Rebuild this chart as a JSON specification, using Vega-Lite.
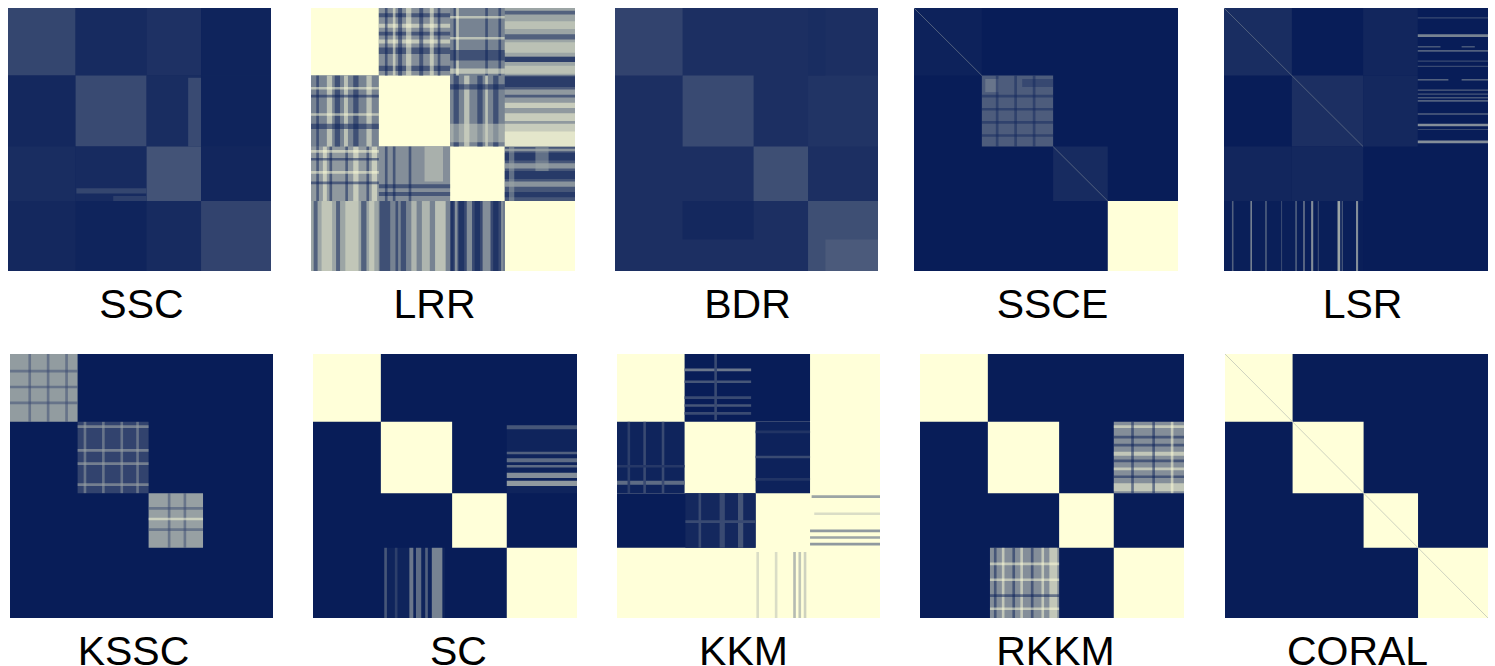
{"$schema":"https://vega.github.io/schema/vega-lite/v6.json","padding":{"left":8,"top":7,"right":0,"bottom":0},"background":"white","spacing":28,"config":{"view":{"stroke":null},"axisX":{"domain":false,"ticks":false,"labels":false,"grid":false,"titleFont":"Liberation Sans","titleFontSize":41,"titleFontWeight":"normal","titleColor":"#000000","titlePadding":14,"titleAlign":"center"}},
"datasets":{"m":[
{"p":"SSC","k":"b","x":0,"x2":100,"y":0,"y2":100,"v":0.05},
{"p":"SSC","k":"b","x":0,"x2":25.7,"y":0,"y2":25.7,"v":0.18},{"p":"SSC","k":"b","x":25.7,"x2":52.7,"y":0,"y2":25.7,"v":0.06},{"p":"SSC","k":"b","x":52.7,"x2":73.4,"y":0,"y2":25.7,"v":0.09},{"p":"SSC","k":"b","x":73.4,"x2":100,"y":0,"y2":25.7,"v":0.03},
{"p":"SSC","k":"b","x":0,"x2":25.7,"y":25.7,"y2":52.7,"v":0.05},{"p":"SSC","k":"b","x":25.7,"x2":52.7,"y":25.7,"y2":52.7,"v":0.2},{"p":"SSC","k":"b","x":52.7,"x2":73.4,"y":25.7,"y2":52.7,"v":0.07},{"p":"SSC","k":"b","x":73.4,"x2":100,"y":25.7,"y2":52.7,"v":0.03},
{"p":"SSC","k":"b","x":68.5,"x2":73.4,"y":26.5,"y2":52.7,"v":0.2},
{"p":"SSC","k":"b","x":0,"x2":25.7,"y":52.7,"y2":73.4,"v":0.07},{"p":"SSC","k":"b","x":25.7,"x2":52.7,"y":52.7,"y2":73.4,"v":0.06},{"p":"SSC","k":"b","x":52.7,"x2":73.4,"y":52.7,"y2":73.4,"v":0.24},{"p":"SSC","k":"b","x":73.4,"x2":100,"y":52.7,"y2":73.4,"v":0.04},
{"p":"SSC","k":"b","x":26,"x2":52.7,"y":68.5,"y2":70.5,"v":0.18},{"p":"SSC","k":"b","x":40,"x2":52.7,"y":71.5,"y2":73.4,"v":0.15},
{"p":"SSC","k":"b","x":0,"x2":25.7,"y":73.4,"y2":100,"v":0.05},{"p":"SSC","k":"b","x":25.7,"x2":52.7,"y":73.4,"y2":100,"v":0.03},{"p":"SSC","k":"b","x":52.7,"x2":73.4,"y":73.4,"y2":100,"v":0.06},{"p":"SSC","k":"b","x":73.4,"x2":100,"y":73.4,"y2":100,"v":0.17},
{"p":"LRR","k":"b","x":0,"x2":100,"y":0,"y2":100,"v":0.45},
{"p":"LRR","k":"b","x":0,"x2":25.7,"y":0,"y2":25.7,"v":1},{"p":"LRR","k":"b","x":25.7,"x2":52.7,"y":0,"y2":25.7,"v":0.5},{"p":"LRR","k":"b","x":52.7,"x2":73.4,"y":0,"y2":25.7,"v":0.45},{"p":"LRR","k":"b","x":73.4,"x2":100,"y":0,"y2":25.7,"v":0.6},
{"p":"LRR","k":"b","x":0,"x2":25.7,"y":25.7,"y2":52.7,"v":0.45},{"p":"LRR","k":"b","x":25.7,"x2":52.7,"y":25.7,"y2":52.7,"v":1},{"p":"LRR","k":"b","x":52.7,"x2":73.4,"y":25.7,"y2":52.7,"v":0.45},{"p":"LRR","k":"b","x":73.4,"x2":100,"y":25.7,"y2":52.7,"v":0.55},
{"p":"LRR","k":"b","x":0,"x2":25.7,"y":52.7,"y2":73.4,"v":0.55},{"p":"LRR","k":"b","x":25.7,"x2":52.7,"y":52.7,"y2":73.4,"v":0.5},{"p":"LRR","k":"b","x":52.7,"x2":73.4,"y":52.7,"y2":73.4,"v":1},{"p":"LRR","k":"b","x":73.4,"x2":100,"y":52.7,"y2":73.4,"v":0.25},
{"p":"LRR","k":"b","x":0,"x2":25.7,"y":73.4,"y2":100,"v":0.6},{"p":"LRR","k":"b","x":25.7,"x2":52.7,"y":73.4,"y2":100,"v":0.45},{"p":"LRR","k":"b","x":52.7,"x2":73.4,"y":73.4,"y2":100,"v":0.2},{"p":"LRR","k":"b","x":73.4,"x2":100,"y":73.4,"y2":100,"v":1},
{"p":"LRR","k":"s","x":25.7,"x2":52.7,"y":2,"y2":3.5,"v":0},{"p":"LRR","k":"s","x":25.7,"x2":52.7,"y":9,"y2":10.5,"v":0},{"p":"LRR","k":"s","x":25.7,"x2":52.7,"y":15,"y2":17.5,"v":0},{"p":"LRR","k":"s","x":25.7,"x2":52.7,"y":22,"y2":24,"v":0},{"p":"LRR","k":"s","x":25.7,"x2":52.7,"y":6,"y2":7.5,"v":1},{"p":"LRR","k":"s","x":25.7,"x2":52.7,"y":12,"y2":13.5,"v":1},
{"p":"LRR","k":"s","x":28,"x2":29,"y":0,"y2":25.7,"v":0},{"p":"LRR","k":"s","x":33,"x2":34.5,"y":0,"y2":25.7,"v":0},{"p":"LRR","k":"s","x":41,"x2":42.5,"y":0,"y2":25.7,"v":0},{"p":"LRR","k":"s","x":48,"x2":49,"y":0,"y2":25.7,"v":0},{"p":"LRR","k":"s","x":31,"x2":32,"y":0,"y2":25.7,"v":1},{"p":"LRR","k":"s","x":36,"x2":38,"y":0,"y2":25.7,"v":1},{"p":"LRR","k":"s","x":45,"x2":46.5,"y":0,"y2":25.7,"v":1},
{"p":"LRR","k":"s","x":55,"x2":56,"y":0,"y2":25.7,"v":1},{"p":"LRR","k":"s","x":52.7,"x2":73.4,"y":16,"y2":20,"v":0},{"p":"LRR","k":"s","x":54,"x2":54.8,"y":0,"y2":25.7,"v":0},{"p":"LRR","k":"s","x":66,"x2":67,"y":0,"y2":25.7,"v":0},{"p":"LRR","k":"s","x":71,"x2":72,"y":0,"y2":25.7,"v":0},{"p":"LRR","k":"s","x":52.7,"x2":73.4,"y":3,"y2":4,"v":1},{"p":"LRR","k":"s","x":52.7,"x2":73.4,"y":11,"y2":12,"v":1},{"p":"LRR","k":"s","x":52.7,"x2":73.4,"y":23,"y2":25,"v":1},
{"p":"LRR","k":"s","x":73.4,"x2":100,"y":1,"y2":2.5,"v":0},{"p":"LRR","k":"s","x":73.4,"x2":100,"y":10,"y2":12,"v":0},{"p":"LRR","k":"s","x":73.4,"x2":100,"y":18.5,"y2":20.5,"v":0},{"p":"LRR","k":"s","x":73.4,"x2":100,"y":18.5,"y2":20.5,"v":0},{"p":"LRR","k":"s","x":73.4,"x2":100,"y":5,"y2":8,"v":0.85},{"p":"LRR","k":"s","x":73.4,"x2":100,"y":13,"y2":17,"v":0.85},{"p":"LRR","k":"s","x":73.4,"x2":100,"y":22,"y2":25,"v":0.85},
{"p":"LRR","k":"s","x":2,"x2":3,"y":25.7,"y2":52.7,"v":0},{"p":"LRR","k":"s","x":9,"x2":11,"y":25.7,"y2":52.7,"v":0},{"p":"LRR","k":"s","x":16,"x2":18,"y":25.7,"y2":52.7,"v":0},{"p":"LRR","k":"s","x":6,"x2":8,"y":25.7,"y2":52.7,"v":1},{"p":"LRR","k":"s","x":12.5,"x2":14,"y":25.7,"y2":52.7,"v":1},{"p":"LRR","k":"s","x":21,"x2":23,"y":25.7,"y2":52.7,"v":1},{"p":"LRR","k":"s","x":0,"x2":25.7,"y":33,"y2":34,"v":0},{"p":"LRR","k":"s","x":0,"x2":25.7,"y":44,"y2":46,"v":0},{"p":"LRR","k":"s","x":0,"x2":25.7,"y":30,"y2":31,"v":1},{"p":"LRR","k":"s","x":0,"x2":25.7,"y":40,"y2":41,"v":1},
{"p":"LRR","k":"s","x":54,"x2":56,"y":25.7,"y2":52.7,"v":0},{"p":"LRR","k":"s","x":63,"x2":65,"y":25.7,"y2":52.7,"v":0},{"p":"LRR","k":"s","x":69,"x2":71,"y":25.7,"y2":52.7,"v":0},{"p":"LRR","k":"s","x":58,"x2":60,"y":25.7,"y2":52.7,"v":1},{"p":"LRR","k":"s","x":66,"x2":67,"y":25.7,"y2":52.7,"v":1},{"p":"LRR","k":"s","x":52.7,"x2":73.4,"y":44,"y2":51,"v":0.8},{"p":"LRR","k":"s","x":52.7,"x2":73.4,"y":29,"y2":31,"v":0},
{"p":"LRR","k":"s","x":73.4,"x2":100,"y":25.7,"y2":31,"v":0},{"p":"LRR","k":"s","x":73.4,"x2":100,"y":33,"y2":34,"v":0},{"p":"LRR","k":"s","x":73.4,"x2":100,"y":26,"y2":30,"v":0},{"p":"LRR","k":"s","x":73.4,"x2":100,"y":36,"y2":38,"v":1},{"p":"LRR","k":"s","x":73.4,"x2":100,"y":40,"y2":43,"v":1},{"p":"LRR","k":"s","x":73.4,"x2":100,"y":44,"y2":52.7,"v":1},{"p":"LRR","k":"s","x":73.4,"x2":100,"y":47,"y2":52.7,"v":1},
{"p":"LRR","k":"s","x":2,"x2":3,"y":52.7,"y2":73.4,"v":0},{"p":"LRR","k":"s","x":7,"x2":8,"y":52.7,"y2":73.4,"v":0},{"p":"LRR","k":"s","x":13,"x2":14,"y":52.7,"y2":73.4,"v":0},{"p":"LRR","k":"s","x":21,"x2":22,"y":52.7,"y2":73.4,"v":0},{"p":"LRR","k":"s","x":4.5,"x2":6,"y":52.7,"y2":73.4,"v":1},{"p":"LRR","k":"s","x":16,"x2":18,"y":52.7,"y2":73.4,"v":1},{"p":"LRR","k":"s","x":23,"x2":25,"y":52.7,"y2":73.4,"v":1},{"p":"LRR","k":"s","x":0,"x2":25.7,"y":57,"y2":58,"v":0},{"p":"LRR","k":"s","x":0,"x2":25.7,"y":66,"y2":67,"v":0},{"p":"LRR","k":"s","x":0,"x2":25.7,"y":54,"y2":55,"v":1},{"p":"LRR","k":"s","x":0,"x2":25.7,"y":62,"y2":63,"v":1},
{"p":"LRR","k":"s","x":25.7,"x2":52.7,"y":67,"y2":68.5,"v":0},{"p":"LRR","k":"s","x":25.7,"x2":52.7,"y":70,"y2":71.5,"v":0},{"p":"LRR","k":"s","x":28,"x2":29,"y":52.7,"y2":73.4,"v":0},{"p":"LRR","k":"s","x":31,"x2":32,"y":52.7,"y2":73.4,"v":0},{"p":"LRR","k":"s","x":37,"x2":38,"y":52.7,"y2":73.4,"v":0},{"p":"LRR","k":"s","x":43,"x2":50,"y":52.7,"y2":66,"v":0.8},
{"p":"LRR","k":"s","x":73.4,"x2":100,"y":55,"y2":58,"v":0},{"p":"LRR","k":"s","x":73.4,"x2":100,"y":62,"y2":65,"v":0},{"p":"LRR","k":"s","x":73.4,"x2":100,"y":70,"y2":72,"v":0},{"p":"LRR","k":"s","x":73.4,"x2":100,"y":53.5,"y2":54.5,"v":0.8},{"p":"LRR","k":"s","x":73.4,"x2":100,"y":59,"y2":61,"v":0.8},{"p":"LRR","k":"s","x":73.4,"x2":100,"y":66,"y2":68,"v":0.8},{"p":"LRR","k":"s","x":85,"x2":90,"y":52.7,"y2":62,"v":0.6},{"p":"LRR","k":"s","x":75,"x2":77,"y":52.7,"y2":73.4,"v":0.6},
{"p":"LRR","k":"s","x":1,"x2":2.5,"y":73.4,"y2":100,"v":0},{"p":"LRR","k":"s","x":9.5,"x2":11,"y":73.4,"y2":100,"v":0},{"p":"LRR","k":"s","x":19,"x2":21,"y":73.4,"y2":100,"v":0},{"p":"LRR","k":"s","x":4,"x2":8,"y":73.4,"y2":100,"v":0.9},{"p":"LRR","k":"s","x":13,"x2":18,"y":73.4,"y2":100,"v":0.9},{"p":"LRR","k":"s","x":22,"x2":24,"y":73.4,"y2":100,"v":0.9},
{"p":"LRR","k":"s","x":26,"x2":30,"y":73.4,"y2":100,"v":0},{"p":"LRR","k":"s","x":32,"x2":33,"y":73.4,"y2":100,"v":0},{"p":"LRR","k":"s","x":34,"x2":36,"y":73.4,"y2":100,"v":0},{"p":"LRR","k":"s","x":38,"x2":40,"y":73.4,"y2":100,"v":0.9},{"p":"LRR","k":"s","x":42,"x2":45,"y":73.4,"y2":100,"v":0.9},{"p":"LRR","k":"s","x":47,"x2":51,"y":73.4,"y2":100,"v":1},
{"p":"LRR","k":"s","x":53,"x2":54,"y":73.4,"y2":100,"v":0},{"p":"LRR","k":"s","x":56,"x2":58,"y":73.4,"y2":100,"v":0},{"p":"LRR","k":"s","x":62,"x2":64,"y":73.4,"y2":100,"v":0},{"p":"LRR","k":"s","x":69,"x2":71,"y":73.4,"y2":100,"v":0},{"p":"LRR","k":"s","x":54.5,"x2":55.5,"y":73.4,"y2":100,"v":0.8},{"p":"LRR","k":"s","x":59,"x2":61,"y":73.4,"y2":100,"v":0.8},{"p":"LRR","k":"s","x":65,"x2":68,"y":73.4,"y2":100,"v":0.8},{"p":"LRR","k":"s","x":72,"x2":73,"y":73.4,"y2":100,"v":0.8},
{"p":"BDR","k":"b","x":0,"x2":100,"y":0,"y2":100,"v":0.08},{"p":"BDR","k":"b","x":0,"x2":25.7,"y":0,"y2":25.7,"v":0.17},{"p":"BDR","k":"b","x":25.7,"x2":52.7,"y":25.7,"y2":52.7,"v":0.2},{"p":"BDR","k":"b","x":52.7,"x2":73.4,"y":52.7,"y2":73.4,"v":0.22},{"p":"BDR","k":"b","x":73.4,"x2":100,"y":73.4,"y2":100,"v":0.22},{"p":"BDR","k":"b","x":80,"x2":100,"y":88,"y2":100,"v":0.27},{"p":"BDR","k":"b","x":25.7,"x2":52.7,"y":73.4,"y2":88,"v":0.05},{"p":"BDR","k":"b","x":73.4,"x2":100,"y":25.7,"y2":52.7,"v":0.1},{"p":"BDR","k":"b","x":73.4,"x2":80,"y":0,"y2":25.7,"v":0.07},
{"p":"SSCE","k":"b","x":0,"x2":100,"y":0,"y2":100,"v":0},{"p":"SSCE","k":"b","x":0,"x2":25.7,"y":0,"y2":25.7,"v":0.02},{"p":"SSCE","k":"b","x":25.7,"x2":52.7,"y":25.7,"y2":52.7,"v":0.28},{"p":"SSCE","k":"b","x":52.7,"x2":73.4,"y":52.7,"y2":73.4,"v":0.06},{"p":"SSCE","k":"b","x":73.4,"x2":100,"y":73.4,"y2":100,"v":1},
{"p":"SSCE","k":"s","x":25.7,"x2":52.7,"y":33,"y2":34,"v":0.05},{"p":"SSCE","k":"s","x":25.7,"x2":52.7,"y":38,"y2":39,"v":0.05},{"p":"SSCE","k":"s","x":25.7,"x2":52.7,"y":43,"y2":44,"v":0.05},{"p":"SSCE","k":"s","x":25.7,"x2":52.7,"y":48,"y2":49,"v":0.05},{"p":"SSCE","k":"s","x":41,"x2":52.7,"y":27,"y2":30,"v":0.1},{"p":"SSCE","k":"s","x":27,"x2":32,"y":27,"y2":32,"v":0.5},{"p":"SSCE","k":"s","x":31,"x2":32,"y":25.7,"y2":52.7,"v":0.05},{"p":"SSCE","k":"s","x":38,"x2":39,"y":25.7,"y2":52.7,"v":0.05},{"p":"SSCE","k":"s","x":45,"x2":46,"y":25.7,"y2":52.7,"v":0.05},
{"p":"SSCE","k":"d","x":0,"x2":25.7,"y":0,"y2":25.7,"v":0.3},{"p":"SSCE","k":"d","x":52.7,"x2":73.4,"y":52.7,"y2":73.4,"v":0.3},
{"p":"LSR","k":"b","x":0,"x2":100,"y":0,"y2":100,"v":0},{"p":"LSR","k":"b","x":0,"x2":25.7,"y":0,"y2":25.7,"v":0.07},{"p":"LSR","k":"b","x":52.7,"x2":73.4,"y":0,"y2":25.7,"v":0.04},{"p":"LSR","k":"b","x":25.7,"x2":52.7,"y":25.7,"y2":52.7,"v":0.08},{"p":"LSR","k":"b","x":52.7,"x2":73.4,"y":25.7,"y2":52.7,"v":0.05},{"p":"LSR","k":"b","x":0,"x2":25.7,"y":52.7,"y2":73.4,"v":0.04},{"p":"LSR","k":"b","x":25.7,"x2":52.7,"y":52.7,"y2":73.4,"v":0.05},{"p":"LSR","k":"b","x":0,"x2":52.7,"y":73.4,"y2":100,"v":0.01},
{"p":"LSR","k":"b","x":73.4,"x2":100,"y":3.5,"y2":4,"v":0.2},{"p":"LSR","k":"b","x":73.4,"x2":100,"y":10,"y2":11,"v":0.45},{"p":"LSR","k":"b","x":73.4,"x2":82,"y":14.5,"y2":15,"v":0.3},{"p":"LSR","k":"b","x":90,"x2":95,"y":14.5,"y2":15,"v":0.3},{"p":"LSR","k":"b","x":73.4,"x2":100,"y":16,"y2":16.6,"v":0.3},{"p":"LSR","k":"b","x":73.4,"x2":100,"y":20,"y2":20.4,"v":0.2},{"p":"LSR","k":"b","x":73.4,"x2":100,"y":22,"y2":22.4,"v":0.2},{"p":"LSR","k":"b","x":73.4,"x2":85,"y":27,"y2":27.6,"v":0.3},{"p":"LSR","k":"b","x":90,"x2":100,"y":27,"y2":27.6,"v":0.3},{"p":"LSR","k":"b","x":73.4,"x2":100,"y":31,"y2":31.5,"v":0.3},{"p":"LSR","k":"b","x":73.4,"x2":100,"y":32.5,"y2":33,"v":0.25},{"p":"LSR","k":"b","x":73.4,"x2":100,"y":33.8,"y2":34.4,"v":0.25},{"p":"LSR","k":"b","x":73.4,"x2":100,"y":35,"y2":35.6,"v":0.3},{"p":"LSR","k":"b","x":73.4,"x2":100,"y":40,"y2":40.6,"v":0.3},{"p":"LSR","k":"b","x":73.4,"x2":100,"y":44,"y2":45,"v":0.5},{"p":"LSR","k":"b","x":73.4,"x2":100,"y":46,"y2":46.4,"v":0.2},{"p":"LSR","k":"b","x":73.4,"x2":100,"y":50.4,"y2":51.4,"v":0.5},
{"p":"LSR","k":"b","x":3,"x2":3.6,"y":73.4,"y2":100,"v":0.3},{"p":"LSR","k":"b","x":10,"x2":10.6,"y":73.4,"y2":100,"v":0.45},{"p":"LSR","k":"b","x":15.6,"x2":16.2,"y":73.4,"y2":100,"v":0.3},{"p":"LSR","k":"b","x":21.6,"x2":22,"y":73.4,"y2":100,"v":0.2},{"p":"LSR","k":"b","x":27,"x2":27.6,"y":73.4,"y2":100,"v":0.3},{"p":"LSR","k":"b","x":30,"x2":30.6,"y":73.4,"y2":100,"v":0.4},{"p":"LSR","k":"b","x":33,"x2":33.8,"y":73.4,"y2":100,"v":0.5},{"p":"LSR","k":"b","x":35.5,"x2":36,"y":73.4,"y2":100,"v":0.2},{"p":"LSR","k":"b","x":43,"x2":44,"y":73.4,"y2":100,"v":0.6},{"p":"LSR","k":"b","x":44.6,"x2":45,"y":73.4,"y2":100,"v":0.3},{"p":"LSR","k":"b","x":50,"x2":50.8,"y":73.4,"y2":100,"v":0.5},
{"p":"LSR","k":"d","x":0,"x2":52.7,"y":0,"y2":52.7,"v":0.3},
{"p":"KSSC","k":"b","x":0,"x2":100,"y":0,"y2":100,"v":0},{"p":"KSSC","k":"b","x":0,"x2":25.7,"y":0,"y2":25.7,"v":0.56},{"p":"KSSC","k":"b","x":25.7,"x2":52.7,"y":25.7,"y2":52.7,"v":0.17},{"p":"KSSC","k":"b","x":52.7,"x2":73.4,"y":52.7,"y2":73.4,"v":0.58},
{"p":"KSSC","k":"s","x":0,"x2":25.7,"y":6,"y2":7,"v":0.2},{"p":"KSSC","k":"s","x":0,"x2":25.7,"y":12,"y2":13,"v":0.2},{"p":"KSSC","k":"s","x":0,"x2":25.7,"y":18,"y2":19,"v":0.2},{"p":"KSSC","k":"s","x":7,"x2":8,"y":0,"y2":25.7,"v":0.2},{"p":"KSSC","k":"s","x":14,"x2":15,"y":0,"y2":25.7,"v":0.2},{"p":"KSSC","k":"s","x":21,"x2":22,"y":0,"y2":25.7,"v":0.2},
{"p":"KSSC","k":"s","x":25.7,"x2":52.7,"y":27,"y2":28,"v":0.7},{"p":"KSSC","k":"s","x":25.7,"x2":52.7,"y":36,"y2":37,"v":0.7},{"p":"KSSC","k":"s","x":25.7,"x2":52.7,"y":41,"y2":42,"v":0.7},{"p":"KSSC","k":"s","x":25.7,"x2":52.7,"y":49,"y2":50,"v":0.7},{"p":"KSSC","k":"s","x":28,"x2":29,"y":25.7,"y2":52.7,"v":0.6},{"p":"KSSC","k":"s","x":35,"x2":36,"y":25.7,"y2":52.7,"v":0.6},{"p":"KSSC","k":"s","x":42,"x2":43,"y":25.7,"y2":52.7,"v":0.6},{"p":"KSSC","k":"s","x":48,"x2":49,"y":25.7,"y2":52.7,"v":0.6},
{"p":"KSSC","k":"s","x":52.7,"x2":73.4,"y":58,"y2":59,"v":0.2},{"p":"KSSC","k":"s","x":52.7,"x2":73.4,"y":66,"y2":67,"v":0.2},{"p":"KSSC","k":"s","x":60,"x2":61,"y":52.7,"y2":73.4,"v":0.2},{"p":"KSSC","k":"s","x":66,"x2":67,"y":52.7,"y2":73.4,"v":0.2},{"p":"KSSC","k":"s","x":52.7,"x2":73.4,"y":62,"y2":63,"v":1},
{"p":"SC","k":"b","x":0,"x2":100,"y":0,"y2":100,"v":0},{"p":"SC","k":"b","x":0,"x2":25.7,"y":0,"y2":25.7,"v":1},{"p":"SC","k":"b","x":25.7,"x2":52.7,"y":25.7,"y2":52.7,"v":1},{"p":"SC","k":"b","x":52.7,"x2":73.4,"y":52.7,"y2":73.4,"v":1},{"p":"SC","k":"b","x":73.4,"x2":100,"y":73.4,"y2":100,"v":1},
{"p":"SC","k":"b","x":73.4,"x2":100,"y":27,"y2":52.7,"v":0.03},{"p":"SC","k":"b","x":73.4,"x2":100,"y":27,"y2":28.5,"v":0.25},{"p":"SC","k":"b","x":73.4,"x2":100,"y":37,"y2":38,"v":0.3},{"p":"SC","k":"b","x":73.4,"x2":100,"y":39.5,"y2":41,"v":0.35},{"p":"SC","k":"b","x":73.4,"x2":100,"y":42,"y2":43,"v":0.35},{"p":"SC","k":"b","x":73.4,"x2":100,"y":45,"y2":47,"v":0.5},{"p":"SC","k":"b","x":73.4,"x2":100,"y":48,"y2":50,"v":0.55},
{"p":"SC","k":"b","x":27,"x2":50,"y":73.4,"y2":100,"v":0.03},{"p":"SC","k":"b","x":27,"x2":28,"y":73.4,"y2":100,"v":0.25},{"p":"SC","k":"b","x":31,"x2":32,"y":73.4,"y2":100,"v":0.15},{"p":"SC","k":"b","x":36.5,"x2":38,"y":73.4,"y2":100,"v":0.4},{"p":"SC","k":"b","x":39,"x2":41,"y":73.4,"y2":100,"v":0.35},{"p":"SC","k":"b","x":42.5,"x2":43.5,"y":73.4,"y2":100,"v":0.3},{"p":"SC","k":"b","x":45,"x2":49,"y":73.4,"y2":100,"v":0.45},
{"p":"KKM","k":"b","x":0,"x2":100,"y":0,"y2":100,"v":1},{"p":"KKM","k":"b","x":25.7,"x2":73.4,"y":0,"y2":25.7,"v":0},{"p":"KKM","k":"b","x":0,"x2":25.7,"y":25.7,"y2":52.7,"v":0.03},{"p":"KKM","k":"b","x":52.7,"x2":73.4,"y":25.7,"y2":52.7,"v":0.02},{"p":"KKM","k":"b","x":0,"x2":52.7,"y":52.7,"y2":73.4,"v":0},
{"p":"KKM","k":"b","x":25.7,"x2":51,"y":5.5,"y2":6.5,"v":0.4},{"p":"KKM","k":"b","x":25.7,"x2":51,"y":10,"y2":11,"v":0.25},{"p":"KKM","k":"b","x":25.7,"x2":51,"y":16,"y2":17,"v":0.2},{"p":"KKM","k":"b","x":25.7,"x2":51,"y":19,"y2":20,"v":0.25},{"p":"KKM","k":"b","x":25.7,"x2":51,"y":22,"y2":23,"v":0.2},{"p":"KKM","k":"b","x":37,"x2":38,"y":0,"y2":25,"v":0.2},
{"p":"KKM","k":"b","x":0,"x2":25.7,"y":48,"y2":49.5,"v":0.35},{"p":"KKM","k":"b","x":4,"x2":5,"y":25.7,"y2":52.7,"v":0.15},{"p":"KKM","k":"b","x":10,"x2":11,"y":25.7,"y2":52.7,"v":0.2},{"p":"KKM","k":"b","x":17,"x2":18,"y":25.7,"y2":52.7,"v":0.2},{"p":"KKM","k":"b","x":0,"x2":25.7,"y":42,"y2":43,"v":0.12},
{"p":"KKM","k":"b","x":52.7,"x2":73.4,"y":38.5,"y2":39.5,"v":0.2},{"p":"KKM","k":"b","x":52.7,"x2":73.4,"y":29,"y2":30,"v":0.1},{"p":"KKM","k":"b","x":52.7,"x2":73.4,"y":47,"y2":48,"v":0.1},
{"p":"KKM","k":"b","x":26,"x2":52.7,"y":52.7,"y2":73.4,"v":0.05},{"p":"KKM","k":"b","x":31,"x2":32,"y":52.7,"y2":73.4,"v":0.2},{"p":"KKM","k":"b","x":39,"x2":41,"y":52.7,"y2":73.4,"v":0.2},{"p":"KKM","k":"b","x":46,"x2":48,"y":52.7,"y2":73.4,"v":0.25},{"p":"KKM","k":"b","x":26,"x2":52.7,"y":63,"y2":64,"v":0.2},
{"p":"KKM","k":"b","x":74,"x2":100,"y":53.5,"y2":54.5,"v":0.6},{"p":"KKM","k":"b","x":75,"x2":100,"y":60,"y2":61,"v":0.85},{"p":"KKM","k":"b","x":73.4,"x2":100,"y":66.5,"y2":67.5,"v":0.55},{"p":"KKM","k":"b","x":73.4,"x2":100,"y":69,"y2":70,"v":0.6},{"p":"KKM","k":"b","x":73.4,"x2":100,"y":71.5,"y2":72.5,"v":0.55},
{"p":"KKM","k":"b","x":53,"x2":54,"y":75,"y2":100,"v":0.85},{"p":"KKM","k":"b","x":60,"x2":61,"y":75,"y2":100,"v":0.85},{"p":"KKM","k":"b","x":67,"x2":68,"y":75,"y2":100,"v":0.7},{"p":"KKM","k":"b","x":69,"x2":70,"y":75,"y2":100,"v":0.75},{"p":"KKM","k":"b","x":71,"x2":72,"y":75,"y2":100,"v":0.8},
{"p":"RKKM","k":"b","x":0,"x2":100,"y":0,"y2":100,"v":0},{"p":"RKKM","k":"b","x":0,"x2":25.7,"y":0,"y2":25.7,"v":1},{"p":"RKKM","k":"b","x":25.7,"x2":52.7,"y":25.7,"y2":52.7,"v":1},{"p":"RKKM","k":"b","x":52.7,"x2":73.4,"y":52.7,"y2":73.4,"v":1},{"p":"RKKM","k":"b","x":73.4,"x2":100,"y":73.4,"y2":100,"v":1},{"p":"RKKM","k":"b","x":73.4,"x2":100,"y":25.7,"y2":52.7,"v":0.5},{"p":"RKKM","k":"b","x":26.5,"x2":52.7,"y":73.4,"y2":100,"v":0.5},
{"p":"RKKM","k":"s","x":73.4,"x2":100,"y":27,"y2":28,"v":1},{"p":"RKKM","k":"s","x":73.4,"x2":100,"y":31,"y2":32,"v":0},{"p":"RKKM","k":"s","x":73.4,"x2":100,"y":34,"y2":35,"v":0},{"p":"RKKM","k":"s","x":73.4,"x2":100,"y":37,"y2":38.5,"v":1},{"p":"RKKM","k":"s","x":73.4,"x2":100,"y":40,"y2":41,"v":0},{"p":"RKKM","k":"s","x":73.4,"x2":100,"y":43,"y2":44,"v":1},{"p":"RKKM","k":"s","x":73.4,"x2":100,"y":46,"y2":47,"v":0},{"p":"RKKM","k":"s","x":73.4,"x2":100,"y":49,"y2":52,"v":1},{"p":"RKKM","k":"s","x":80,"x2":81,"y":25.7,"y2":52.7,"v":0},{"p":"RKKM","k":"s","x":88,"x2":89,"y":25.7,"y2":52.7,"v":0},{"p":"RKKM","k":"s","x":95,"x2":96,"y":25.7,"y2":52.7,"v":1},
{"p":"RKKM","k":"s","x":28,"x2":29,"y":73.4,"y2":100,"v":0},{"p":"RKKM","k":"s","x":31,"x2":32,"y":73.4,"y2":100,"v":1},{"p":"RKKM","k":"s","x":35,"x2":36,"y":73.4,"y2":100,"v":0},{"p":"RKKM","k":"s","x":38,"x2":39,"y":73.4,"y2":100,"v":1},{"p":"RKKM","k":"s","x":42,"x2":43,"y":73.4,"y2":100,"v":0},{"p":"RKKM","k":"s","x":46,"x2":47,"y":73.4,"y2":100,"v":1},{"p":"RKKM","k":"s","x":49,"x2":52,"y":73.4,"y2":100,"v":1},{"p":"RKKM","k":"s","x":26.5,"x2":52.7,"y":79,"y2":80,"v":1},{"p":"RKKM","k":"s","x":26.5,"x2":52.7,"y":85,"y2":86,"v":1},{"p":"RKKM","k":"s","x":26.5,"x2":52.7,"y":91,"y2":92,"v":0},{"p":"RKKM","k":"s","x":26.5,"x2":52.7,"y":96,"y2":97,"v":1},
{"p":"CORAL","k":"b","x":0,"x2":100,"y":0,"y2":100,"v":0},{"p":"CORAL","k":"b","x":0,"x2":25.7,"y":0,"y2":25.7,"v":1},{"p":"CORAL","k":"b","x":25.7,"x2":52.7,"y":25.7,"y2":52.7,"v":1},{"p":"CORAL","k":"b","x":52.7,"x2":73.4,"y":52.7,"y2":73.4,"v":1},{"p":"CORAL","k":"b","x":73.4,"x2":100,"y":73.4,"y2":100,"v":1},{"p":"CORAL","k":"d","x":0,"x2":100,"y":0,"y2":100,"v":0.8}
]},
"vconcat":[
{"spacing":0,"hconcat":[
{"hconcat":[
{"width":263,"height":263,"data":{"name":"m"},"transform":[{"filter":"datum.p==='SSC'"}],"encoding":{"x":{"field":"x","type":"quantitative","scale":{"domain":[0,100],"nice":false,"zero":false},"axis":{"title":"SSC","titleX":133}},"x2":{"field":"x2"},"y":{"field":"y","type":"quantitative","scale":{"domain":[0,100],"nice":false,"zero":false,"reverse":true},"axis":null},"y2":{"field":"y2"},"color":{"field":"v","type":"quantitative","scale":{"domain":[0,1],"range":["#081d58","#ffffd9"],"interpolate":"rgb"},"legend":null}},"layer":[{"transform":[{"filter":"datum.k!=='d'"}],"mark":{"type":"rect"},"encoding":{"opacity":{"field":"k","type":"nominal","scale":{"domain":["b","s"],"range":[1,0.5]},"legend":null}}},{"transform":[{"filter":"datum.k==='d'"}],"mark":{"type":"rule","strokeWidth":1},"encoding":{}}]},
{"width":264,"height":263,"data":{"name":"m"},"transform":[{"filter":"datum.p==='LRR'"}],"encoding":{"x":{"field":"x","type":"quantitative","scale":{"domain":[0,100],"nice":false,"zero":false},"axis":{"title":"LRR","titleX":123}},"x2":{"field":"x2"},"y":{"field":"y","type":"quantitative","scale":{"domain":[0,100],"nice":false,"zero":false,"reverse":true},"axis":null},"y2":{"field":"y2"},"color":{"field":"v","type":"quantitative","scale":{"domain":[0,1],"range":["#081d58","#ffffd9"],"interpolate":"rgb"},"legend":null}},"layer":[{"transform":[{"filter":"datum.k!=='d'"}],"mark":{"type":"rect"},"encoding":{"opacity":{"field":"k","type":"nominal","scale":{"domain":["b","s"],"range":[1,0.5]},"legend":null}}},{"transform":[{"filter":"datum.k==='d'"}],"mark":{"type":"rule","strokeWidth":1},"encoding":{}}]},
{"width":263,"height":263,"data":{"name":"m"},"transform":[{"filter":"datum.p==='BDR'"}],"encoding":{"x":{"field":"x","type":"quantitative","scale":{"domain":[0,100],"nice":false,"zero":false},"axis":{"title":"BDR","titleX":132}},"x2":{"field":"x2"},"y":{"field":"y","type":"quantitative","scale":{"domain":[0,100],"nice":false,"zero":false,"reverse":true},"axis":null},"y2":{"field":"y2"},"color":{"field":"v","type":"quantitative","scale":{"domain":[0,1],"range":["#081d58","#ffffd9"],"interpolate":"rgb"},"legend":null}},"layer":[{"transform":[{"filter":"datum.k!=='d'"}],"mark":{"type":"rect"},"encoding":{"opacity":{"field":"k","type":"nominal","scale":{"domain":["b","s"],"range":[1,0.5]},"legend":null}}},{"transform":[{"filter":"datum.k==='d'"}],"mark":{"type":"rule","strokeWidth":1},"encoding":{}}]}
],"spacing":40},
{"width":35,"height":1,"data":{"values":[]},"mark":"rect","encoding":{}},
{"hconcat":[
{"width":264,"height":263,"data":{"name":"m"},"transform":[{"filter":"datum.p==='SSCE'"}],"encoding":{"x":{"field":"x","type":"quantitative","scale":{"domain":[0,100],"nice":false,"zero":false},"axis":{"title":"SSCE","titleX":138}},"x2":{"field":"x2"},"y":{"field":"y","type":"quantitative","scale":{"domain":[0,100],"nice":false,"zero":false,"reverse":true},"axis":null},"y2":{"field":"y2"},"color":{"field":"v","type":"quantitative","scale":{"domain":[0,1],"range":["#081d58","#ffffd9"],"interpolate":"rgb"},"legend":null}},"layer":[{"transform":[{"filter":"datum.k!=='d'"}],"mark":{"type":"rect"},"encoding":{"opacity":{"field":"k","type":"nominal","scale":{"domain":["b","s"],"range":[1,0.5]},"legend":null}}},{"transform":[{"filter":"datum.k==='d'"}],"mark":{"type":"rule","strokeWidth":1},"encoding":{}}]},
{"width":264,"height":263,"data":{"name":"m"},"transform":[{"filter":"datum.p==='LSR'"}],"encoding":{"x":{"field":"x","type":"quantitative","scale":{"domain":[0,100],"nice":false,"zero":false},"axis":{"title":"LSR","titleX":138}},"x2":{"field":"x2"},"y":{"field":"y","type":"quantitative","scale":{"domain":[0,100],"nice":false,"zero":false,"reverse":true},"axis":null},"y2":{"field":"y2"},"color":{"field":"v","type":"quantitative","scale":{"domain":[0,1],"range":["#081d58","#ffffd9"],"interpolate":"rgb"},"legend":null}},"layer":[{"transform":[{"filter":"datum.k!=='d'"}],"mark":{"type":"rect"},"encoding":{"opacity":{"field":"k","type":"nominal","scale":{"domain":["b","s"],"range":[1,0.5]},"legend":null}}},{"transform":[{"filter":"datum.k==='d'"}],"mark":{"type":"rule","strokeWidth":1},"encoding":{}}]}
],"spacing":45}
]},
{"spacing":0,"hconcat":[
{"width":2,"height":1,"data":{"values":[]},"mark":"rect","encoding":{}},
{"hconcat":[
{"width":263,"height":264,"data":{"name":"m"},"transform":[{"filter":"datum.p==='KSSC'"}],"encoding":{"x":{"field":"x","type":"quantitative","scale":{"domain":[0,100],"nice":false,"zero":false},"axis":{"title":"KSSC","titleX":123}},"x2":{"field":"x2"},"y":{"field":"y","type":"quantitative","scale":{"domain":[0,100],"nice":false,"zero":false,"reverse":true},"axis":null},"y2":{"field":"y2"},"color":{"field":"v","type":"quantitative","scale":{"domain":[0,1],"range":["#081d58","#ffffd9"],"interpolate":"rgb"},"legend":null}},"layer":[{"transform":[{"filter":"datum.k!=='d'"}],"mark":{"type":"rect"},"encoding":{"opacity":{"field":"k","type":"nominal","scale":{"domain":["b","s"],"range":[1,0.5]},"legend":null}}},{"transform":[{"filter":"datum.k==='d'"}],"mark":{"type":"rule","strokeWidth":1},"encoding":{}}]},
{"width":264,"height":264,"data":{"name":"m"},"transform":[{"filter":"datum.p==='SC'"}],"encoding":{"x":{"field":"x","type":"quantitative","scale":{"domain":[0,100],"nice":false,"zero":false},"axis":{"title":"SC","titleX":145}},"x2":{"field":"x2"},"y":{"field":"y","type":"quantitative","scale":{"domain":[0,100],"nice":false,"zero":false,"reverse":true},"axis":null},"y2":{"field":"y2"},"color":{"field":"v","type":"quantitative","scale":{"domain":[0,1],"range":["#081d58","#ffffd9"],"interpolate":"rgb"},"legend":null}},"layer":[{"transform":[{"filter":"datum.k!=='d'"}],"mark":{"type":"rect"},"encoding":{"opacity":{"field":"k","type":"nominal","scale":{"domain":["b","s"],"range":[1,0.5]},"legend":null}}},{"transform":[{"filter":"datum.k==='d'"}],"mark":{"type":"rule","strokeWidth":1},"encoding":{}}]},
{"width":263,"height":264,"data":{"name":"m"},"transform":[{"filter":"datum.p==='KKM'"}],"encoding":{"x":{"field":"x","type":"quantitative","scale":{"domain":[0,100],"nice":false,"zero":false},"axis":{"title":"KKM","titleX":126}},"x2":{"field":"x2"},"y":{"field":"y","type":"quantitative","scale":{"domain":[0,100],"nice":false,"zero":false,"reverse":true},"axis":null},"y2":{"field":"y2"},"color":{"field":"v","type":"quantitative","scale":{"domain":[0,1],"range":["#081d58","#ffffd9"],"interpolate":"rgb"},"legend":null}},"layer":[{"transform":[{"filter":"datum.k!=='d'"}],"mark":{"type":"rect"},"encoding":{"opacity":{"field":"k","type":"nominal","scale":{"domain":["b","s"],"range":[1,0.5]},"legend":null}}},{"transform":[{"filter":"datum.k==='d'"}],"mark":{"type":"rule","strokeWidth":1},"encoding":{}}]},
{"width":264,"height":264,"data":{"name":"m"},"transform":[{"filter":"datum.p==='RKKM'"}],"encoding":{"x":{"field":"x","type":"quantitative","scale":{"domain":[0,100],"nice":false,"zero":false},"axis":{"title":"RKKM","titleX":135}},"x2":{"field":"x2"},"y":{"field":"y","type":"quantitative","scale":{"domain":[0,100],"nice":false,"zero":false,"reverse":true},"axis":null},"y2":{"field":"y2"},"color":{"field":"v","type":"quantitative","scale":{"domain":[0,1],"range":["#081d58","#ffffd9"],"interpolate":"rgb"},"legend":null}},"layer":[{"transform":[{"filter":"datum.k!=='d'"}],"mark":{"type":"rect"},"encoding":{"opacity":{"field":"k","type":"nominal","scale":{"domain":["b","s"],"range":[1,0.5]},"legend":null}}},{"transform":[{"filter":"datum.k==='d'"}],"mark":{"type":"rule","strokeWidth":1},"encoding":{}}]},
{"width":263,"height":264,"data":{"name":"m"},"transform":[{"filter":"datum.p==='CORAL'"}],"encoding":{"x":{"field":"x","type":"quantitative","scale":{"domain":[0,100],"nice":false,"zero":false},"axis":{"title":"CORAL","titleX":132}},"x2":{"field":"x2"},"y":{"field":"y","type":"quantitative","scale":{"domain":[0,100],"nice":false,"zero":false,"reverse":true},"axis":null},"y2":{"field":"y2"},"color":{"field":"v","type":"quantitative","scale":{"domain":[0,1],"range":["#081d58","#ffffd9"],"interpolate":"rgb"},"legend":null}},"layer":[{"transform":[{"filter":"datum.k!=='d'"}],"mark":{"type":"rect"},"encoding":{"opacity":{"field":"k","type":"nominal","scale":{"domain":["b","s"],"range":[1,0.5]},"legend":null}}},{"transform":[{"filter":"datum.k==='d'"}],"mark":{"type":"rule","strokeWidth":1},"encoding":{}}]}
],"spacing":40}
]}
]}
